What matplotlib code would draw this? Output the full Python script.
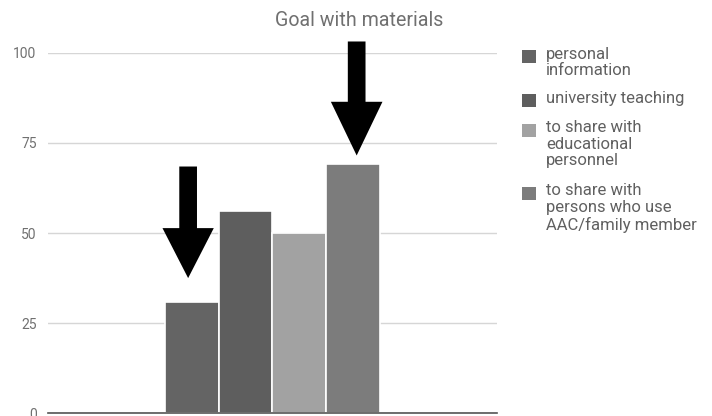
import matplotlib
matplotlib.use("Agg")
import matplotlib.pyplot as plt
from matplotlib.patches import Polygon, Rectangle

plt.rcParams["font.family"] = ["Roboto", "DejaVu Sans"]

title = "Goal with materials"
labels = [
    "personal\ninformation",
    "university teaching",
    "to share with\neducational\npersonnel",
    "to share with\npersons who use\nAAC/family member",
]
values = [31, 56, 50, 69]
colors = ["#646464", "#5e5e5e", "#a2a2a2", "#7c7c7c"]
yticks = [0, 25, 50, 75, 100]

W, H = 712, 416
fig = plt.figure(figsize=(W / 100, H / 100), dpi=100)


def fx(px):
    return px / W


def fy(py):
    return 1 - py / H


ax = fig.add_axes([fx(47.7), fy(413.3), fx(497) - fx(47.7), fy(52.7) - fy(413.3)])

xs = [-1.5, -0.5, 0.5, 1.5]
ax.bar(xs, values, width=1.0, color=colors, edgecolor="white", linewidth=1.2, zorder=2)
ax.set_xlim(-4.18, 4.18)
ax.set_ylim(0, 100)

ax.set_yticks(yticks)
ax.set_xticks([])
ax.tick_params(axis="y", length=0, pad=8, labelsize=10, labelcolor="#707070")
ax.grid(axis="y", color="#d6d6d6", linewidth=1, zorder=0)
for s in ["top", "right", "left"]:
    ax.spines[s].set_visible(False)
ax.spines["bottom"].set_color("#555555")
ax.spines["bottom"].set_linewidth(1.2)
ax.spines["bottom"].set_zorder(3)

fig.text(0.505, fy(20), title, ha="center", va="center", fontsize=14.1, color="#707070")


def down_arrow(bar_i, dx, gap, length, head_len, head_w, shaft_w):
    # arrow shape in pixels, tip placed just above the bar top
    fig.canvas.draw()
    bx, by = ax.transData.transform((xs[bar_i], values[bar_i]))
    tx, ty = bx + dx, by + gap
    pts = [
        (tx, ty),
        (tx - head_w / 2, ty + head_len),
        (tx - shaft_w / 2, ty + head_len),
        (tx - shaft_w / 2, ty + length),
        (tx + shaft_w / 2, ty + length),
        (tx + shaft_w / 2, ty + head_len),
        (tx + head_w / 2, ty + head_len),
    ]
    fig.add_artist(Polygon(pts, closed=True, facecolor="black", edgecolor="none",
                           transform=None, zorder=5))


down_arrow(0, -3.6, 23.4, 111.6, 50, 51.3, 17.7)
down_arrow(3, 3.7, 9.0, 114.0, 53.7, 51.6, 17.7)

# legend, one swatch per series aligned with the first text line
first_lines = [56, 100, 130, 193]
for lab, col, yc in zip(labels, colors, first_lines):
    fig.add_artist(Rectangle((fx(522), fy(yc + 6.5)), fx(13.5), 13 / H,
                             facecolor=col, edgecolor="none", transform=fig.transFigure))
    fig.text(fx(546), fy(yc - 9.5), lab, ha="left", va="top", fontsize=12,
             color="#606060", linespacing=1.12)

fig.savefig("out.png", dpi=100)
